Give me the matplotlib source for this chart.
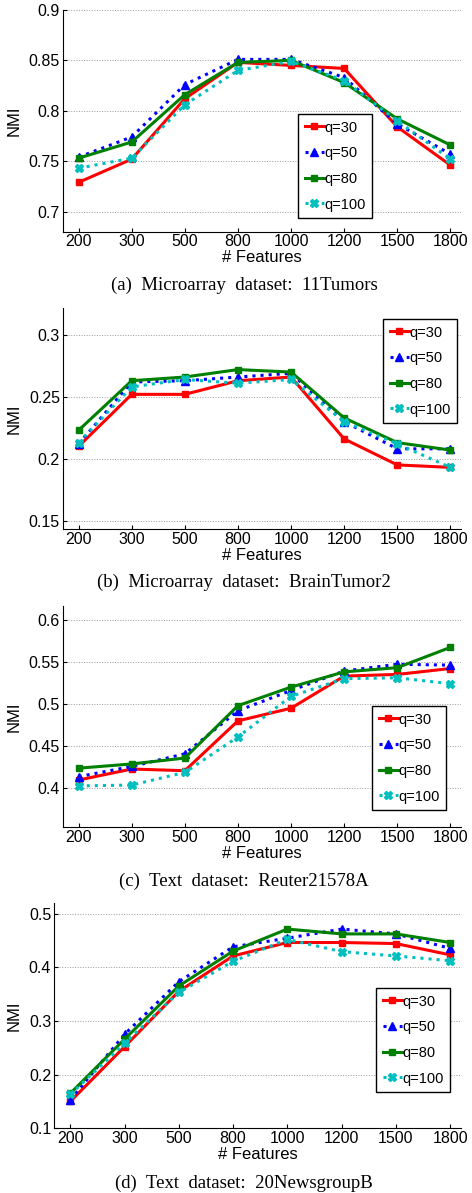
"""
  NMI vs number of features for four datasets, four q values each.
"""

import numpy as np
import matplotlib
matplotlib.use('Agg')
import matplotlib.pyplot as plt

plt.rcParams['font.family'] = ['Liberation Sans', 'DejaVu Sans']

################################################################################
# Data.                                                                        #
################################################################################

features = ['200', '300', '500', '800', '1000', '1200', '1500', '1800']
q_labels = ['q=30', 'q=50', 'q=80', 'q=100']

# (a) Microarray dataset: 11Tumors
tumors_q30  = [0.729, 0.752, 0.812, 0.848, 0.845, 0.842, 0.784, 0.746]
tumors_q50  = [0.754, 0.774, 0.826, 0.851, 0.851, 0.833, 0.787, 0.757]
tumors_q80  = [0.753, 0.769, 0.816, 0.848, 0.850, 0.828, 0.792, 0.766]
tumors_q100 = [0.743, 0.753, 0.806, 0.840, 0.849, 0.830, 0.790, 0.752]

# (b) Microarray dataset: BrainTumor2
brain_q30  = [0.210, 0.252, 0.252, 0.263, 0.266, 0.216, 0.195, 0.193]
brain_q50  = [0.212, 0.262, 0.263, 0.266, 0.269, 0.230, 0.208, 0.208]
brain_q80  = [0.223, 0.263, 0.266, 0.272, 0.270, 0.233, 0.213, 0.207]
brain_q100 = [0.213, 0.258, 0.264, 0.261, 0.264, 0.230, 0.212, 0.193]

# (c) Text dataset: Reuter21578A
reuter_q30  = [0.410, 0.423, 0.421, 0.480, 0.495, 0.533, 0.535, 0.542]
reuter_q50  = [0.414, 0.426, 0.441, 0.492, 0.516, 0.539, 0.547, 0.546]
reuter_q80  = [0.424, 0.429, 0.436, 0.498, 0.520, 0.538, 0.543, 0.567]
reuter_q100 = [0.403, 0.404, 0.419, 0.461, 0.509, 0.530, 0.531, 0.524]

# (d) Text dataset: 20NewsgroupB
news_q30  = [0.150, 0.252, 0.355, 0.421, 0.446, 0.446, 0.444, 0.423]
news_q50  = [0.153, 0.275, 0.373, 0.438, 0.454, 0.471, 0.462, 0.435]
news_q80  = [0.165, 0.266, 0.365, 0.430, 0.471, 0.462, 0.462, 0.446]
news_q100 = [0.163, 0.258, 0.353, 0.411, 0.452, 0.429, 0.421, 0.412]

################################################################################
# Plot.                                                                        #
################################################################################

W, H = 472, 1193
styles = [
    dict(c='#FF0000', ls='-',  marker='s', ms=5),
    dict(c='#0000FF', ls=':',  marker='^', ms=6),
    dict(c='#008000', ls='-',  marker='s', ms=5),
    dict(c='#00BFBF', ls=':',  marker='X', ms=6),
]

# caption, series, ylim, yticks, axes box [left, top, right, bottom] px, legend [left, top] px, caption y px
panels = [
    ('(a)  Microarray  dataset:  11Tumors',
     [tumors_q30, tumors_q50, tumors_q80, tumors_q100],
     (0.68, 0.9), [0.7, 0.75, 0.8, 0.85, 0.9], ['0.7', '0.75', '0.8', '0.85', '0.9'],
     [62.7, 10, 461, 231.7], [298, 114], 285),
    ('(b)  Microarray  dataset:  BrainTumor2',
     [brain_q30, brain_q50, brain_q80, brain_q100],
     (0.143, 0.3215), [0.15, 0.2, 0.25, 0.3], ['0.15', '0.2', '0.25', '0.3'],
     [62.7, 308.3, 461, 529.3], [383, 319], 582),
    ('(c)  Text  dataset:  Reuter21578A',
     [reuter_q30, reuter_q50, reuter_q80, reuter_q100],
     (0.354, 0.616), [0.4, 0.45, 0.5, 0.55, 0.6], ['0.4', '0.45', '0.5', '0.55', '0.6'],
     [62.7, 606, 461, 827.3], [372, 706], 881),
    ('(d)  Text  dataset:  20NewsgroupB',
     [news_q30, news_q50, news_q80, news_q100],
     (0.1, 0.519), [0.1, 0.2, 0.3, 0.4, 0.5], ['0.1', '0.2', '0.3', '0.4', '0.5'],
     [54, 903.3, 461, 1128.3], [376, 988], 1183),
]

fig = plt.figure(figsize=(W / 100, H / 100), dpi=100)
x = np.arange(1, len(features) + 1)

for caption, series, ylim, yticks, yticklabels, box, leg, cap_y in panels:
    l, t, r, b = box
    ax = fig.add_axes([l / W, 1 - b / H, (r - l) / W, (b - t) / H])
    for vals, st, lab in zip(series, styles, q_labels):
        ax.plot(x, vals, color=st['c'], ls=st['ls'], lw=2.2, marker=st['marker'],
                ms=st['ms'], mfc=st['c'], mec=st['c'], label=lab)
    ax.set_xlim(0.7, 8.2)
    ax.set_ylim(*ylim)
    ax.set_xticks(x)
    ax.set_xticklabels(features)
    ax.set_yticks(yticks)
    ax.set_yticklabels(yticklabels)
    ax.tick_params(direction='in', length=3, labelsize=11.5, pad=2, width=0.8)
    ax.spines['top'].set_visible(False)
    ax.spines['right'].set_visible(False)
    ax.yaxis.grid(True, ls=':', color='#999999', lw=0.7)
    ax.set_axisbelow(True)
    ax.set_xlabel('# Features', fontsize=12, labelpad=0.5)
    ax.set_ylabel('NMI', fontsize=12, labelpad=5)
    lg = ax.legend(loc='upper left', bbox_to_anchor=(leg[0] / W, 1 - leg[1] / H),
                   bbox_transform=fig.transFigure, fontsize=10.5, frameon=True,
                   fancybox=False, edgecolor='k', framealpha=1, borderpad=0.45,
                   labelspacing=0.8, handlelength=1.3, handletextpad=0.05,
                   borderaxespad=0)
    lg.get_frame().set_linewidth(1.0)
    fig.text(244 / W, 1 - cap_y / H, caption, ha='center', va='center',
             fontsize=13.5, family=['Liberation Serif', 'DejaVu Serif'])

fig.savefig('out.png', dpi=100)
plt.close()
